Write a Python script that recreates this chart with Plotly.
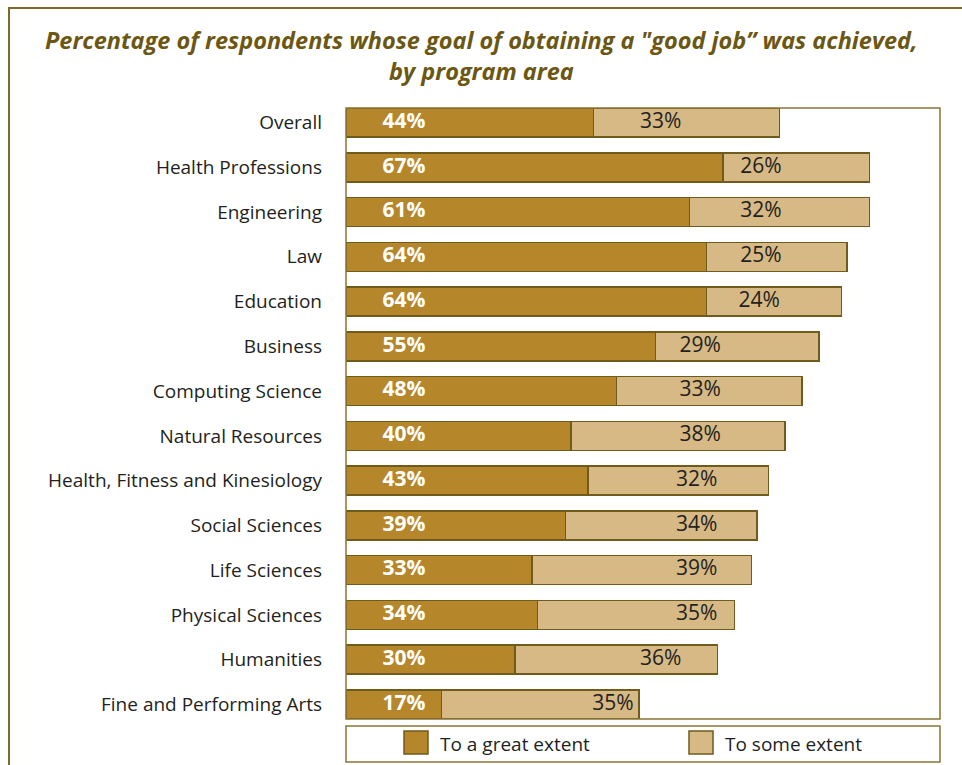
import plotly.graph_objects as go

# Program areas, top to bottom
programs = [
    "Overall", "Health Professions", "Engineering", "Law", "Education",
    "Business", "Computing Science", "Natural Resources",
    "Health, Fitness and Kinesiology", "Social Sciences", "Life Sciences",
    "Physical Sciences", "Humanities", "Fine and Performing Arts",
]
# Share of respondents (%) whose goal was achieved
great_extent = [44, 67, 61, 64, 64, 55, 48, 40, 43, 39, 33, 34, 30, 17]
some_extent = [33, 26, 32, 25, 24, 29, 33, 38, 32, 34, 39, 35, 36, 35]

# Horizontal anchor (in %) for the value labels
great_label_pos = 10.3
some_label_pos = [55.9, 73.7, 73.7, 73.7, 73.4, 62.9, 62.9, 62.9,
                  62.3, 62.3, 62.3, 62.3, 55.9, 47.4]

title_text = ("Percentage of respondents whose goal of obtaining a \"good job\u201d was achieved,"
              "<br>by program area")

W, H = 962, 765
L, R, T, B = 346, 940, 108, 719          # plot area in pixels
X_MAX = 105.5

DARK = "#b5862a"
LIGHT = "#d7b985"
EDGE = "#6f5b1c"
FRAME = "#7d6a2a"
TEXT = "#231f20"
TITLE = "#6b5712"
FONT = "Open Sans"


def px_x(p):
    return (p - L) / (R - L)


def px_y(p):
    return (B - p) / (B - T)


fig = go.Figure()
fig.add_trace(go.Bar(
    y=programs, x=great_extent, orientation="h", name="To a great extent",
    marker=dict(color=DARK, line=dict(color=EDGE, width=1.5)),
    hoverinfo="skip",
))
fig.add_trace(go.Bar(
    y=programs, x=some_extent, orientation="h", name="To some extent",
    marker=dict(color=LIGHT, line=dict(color=EDGE, width=1.5)),
    hoverinfo="skip",
))

fig.add_trace(go.Scatter(
    y=programs, x=[great_label_pos] * len(programs), mode="text",
    text=[f"{v}%" for v in great_extent],
    textfont=dict(family=FONT, size=21, color="white", weight="bold"),
    textposition="middle center", hoverinfo="skip",
))
fig.add_trace(go.Scatter(
    y=programs, x=some_label_pos, mode="text",
    text=[f"{v}%" for v in some_extent],
    textfont=dict(family=FONT, size=21, color=TEXT),
    textposition="middle center", hoverinfo="skip",
))

shapes = [
    # outer page frame
    dict(type="rect", xref="paper", yref="paper",
         x0=px_x(9), x1=px_x(975), y0=px_y(780), y1=px_y(8),
         line=dict(color=FRAME, width=2)),
    # plot border
    dict(type="rect", xref="paper", yref="paper",
         x0=0, x1=1, y0=0, y1=1, line=dict(color="#8a7636", width=1.5)),
    # legend box
    dict(type="rect", xref="paper", yref="paper",
         x0=0, x1=1, y0=px_y(762), y1=px_y(726),
         line=dict(color="#8a7636", width=1.5)),
    # legend swatches
    dict(type="rect", xref="paper", yref="paper",
         x0=px_x(404), x1=px_x(428), y0=px_y(754), y1=px_y(731),
         fillcolor=DARK, line=dict(color=EDGE, width=1.5)),
    dict(type="rect", xref="paper", yref="paper",
         x0=px_x(689), x1=px_x(713), y0=px_y(754), y1=px_y(731),
         fillcolor=LIGHT, line=dict(color=EDGE, width=1.5)),
]

title_font = dict(family=FONT, size=23.5, color=TITLE, weight="bold", style="italic")
annotations = [
    dict(text=title_text, xref="paper", yref="paper", x=px_x(481), y=px_y(55),
         xanchor="center", yanchor="middle", align="center", showarrow=False,
         font=title_font),
    dict(text="To a great extent", xref="paper", yref="paper",
         x=px_x(438), y=px_y(744), xanchor="left", yanchor="middle",
         showarrow=False, font=dict(family=FONT, size=19, color=TEXT)),
    dict(text="To some extent", xref="paper", yref="paper",
         x=px_x(723), y=px_y(744), xanchor="left", yanchor="middle",
         showarrow=False, font=dict(family=FONT, size=19, color=TEXT)),
]

fig.update_layout(
    width=W, height=H,
    margin=dict(l=L, r=W - R, t=T, b=H - B, pad=0),
    paper_bgcolor="white", plot_bgcolor="white",
    barmode="stack", bargap=0.35, showlegend=False,
    xaxis=dict(range=[0, X_MAX], visible=False, fixedrange=True),
    yaxis=dict(
        type="category", categoryorder="array", categoryarray=programs,
        range=[len(programs) - 1 + 0.325, -0.325],
        showgrid=False, zeroline=False, showline=False, ticks="",
        ticklabelstandoff=23,
        tickfont=dict(family=FONT, size=19, color=TEXT),
        fixedrange=True,
    ),
    shapes=shapes, annotations=annotations,
)

fig.write_html("out.html")
